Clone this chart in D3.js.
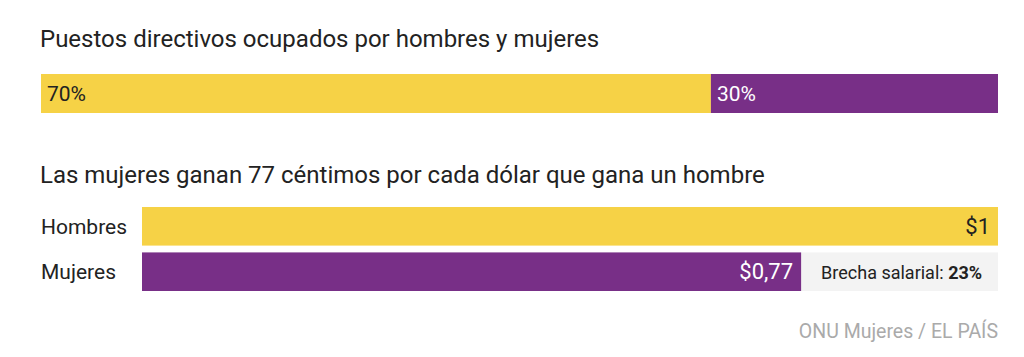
<!DOCTYPE html>
<html><head><meta charset="utf-8">
<script src="https://cdn.jsdelivr.net/npm/d3@7"></script>
<style>body{margin:0;background:#fff;}svg{display:block;font-family:"Roboto","Liberation Sans",sans-serif;}</style>
</head><body><svg id="c" width="1024" height="357"></svg>
<script>
const title1 = "Puestos directivos ocupados por hombres y mujeres";
const shareGroups = ["Hombres", "Mujeres"];
const shareValues = [70, 30];
const title2 = "Las mujeres ganan 77 céntimos por cada dólar que gana un hombre";
const wageCategories = ["Hombres", "Mujeres"];
const wageValues = [1, 0.77];
const wageLabels = ["$1", "$0,77"];
const gapLabel = "Brecha salarial: ";
const gapValue = "23%";
const source = "ONU Mujeres / EL PAÍS";
const colors = ["#f6d246", "#782f87"];
const labelColors = ["#222", "#fff"];

const svg = d3.select("#c");
const ink = "#222";

// Chart 1
svg.append("text").attr("x", 40).attr("y", 47).attr("font-size", 24).attr("fill", ink).text(title1);
const x1 = d3.scaleLinear().domain([0, 100]).range([41, 998]);
let cum = 0;
const stacked = shareValues.map((v, i) => { const s = {start: cum, end: cum + v, v, i}; cum += v; return s; });
const g1 = svg.append("g");
g1.selectAll("rect").data(stacked).join("rect")
  .attr("x", d => x1(d.start)).attr("width", d => x1(d.end) - x1(d.start))
  .attr("y", 74).attr("height", 39).attr("fill", d => colors[d.i]);
g1.selectAll("text").data(stacked).join("text")
  .attr("x", d => x1(d.start) + 6).attr("y", 101).attr("font-size", 21)
  .attr("fill", d => labelColors[d.i]).text(d => d.v + "%");

// Chart 2
svg.append("text").attr("x", 40).attr("y", 183).attr("font-size", 24).attr("fill", ink).text(title2);
const x2 = d3.scaleLinear().domain([0, 1]).range([142, 998]);
const y2 = d3.scaleBand().domain(wageCategories).range([207, 291]).paddingInner(0.15);
// gap background
svg.append("rect").attr("x", x2(wageValues[1])).attr("width", x2(1) - x2(wageValues[1]))
  .attr("y", y2("Mujeres")).attr("height", y2.bandwidth()).attr("fill", "#f3f3f3");
const g2 = svg.append("g");
g2.selectAll("rect").data(wageCategories).join("rect")
  .attr("x", x2(0)).attr("width", (d, i) => x2(wageValues[i]) - x2(0))
  .attr("y", d => y2(d)).attr("height", y2.bandwidth()).attr("fill", (d, i) => colors[i]);
g2.selectAll("text.cat").data(wageCategories).join("text").attr("class", "cat")
  .attr("x", 41).attr("y", d => y2(d) + y2.bandwidth() / 2 + 7.5).attr("font-size", 21)
  .attr("fill", ink).text(d => d);
g2.selectAll("text.val").data(wageCategories).join("text").attr("class", "val")
  .attr("x", (d, i) => x2(wageValues[i]) - 8).attr("text-anchor", "end")
  .attr("y", d => y2(d) + y2.bandwidth() / 2 + 7.5).attr("font-size", 22)
  .attr("fill", (d, i) => labelColors[i]).text((d, i) => wageLabels[i]);
const gt = svg.append("text").attr("x", x2(wageValues[1]) + 20)
  .attr("y", y2("Mujeres") + y2.bandwidth() / 2 + 7).attr("font-size", 18).attr("fill", ink);
gt.append("tspan").text(gapLabel);
gt.append("tspan").attr("font-weight", "bold").text(gapValue);

svg.append("text").attr("x", 998).attr("y", 338).attr("text-anchor", "end")
  .attr("font-size", 19.5).attr("fill", "#aaa").text(source);
</script></body></html>
